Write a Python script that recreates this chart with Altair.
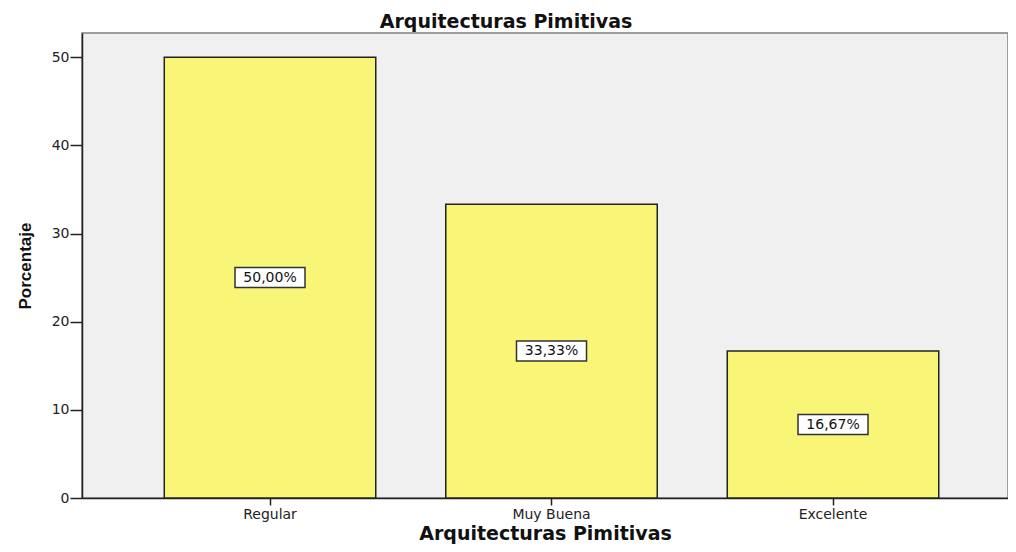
import altair as alt
import pandas as pd

categories = ["Regular", "Muy Buena", "Excelente"]
percentages = [50.0, 33.33, 16.67]
y_ticks = [0, 10, 20, 30, 40, 50]

df = pd.DataFrame({"categoria": categories, "porcentaje": percentages})

x_enc = alt.X(
    "categoria:N",
    sort=categories,
    title="Arquitecturas Pimitivas",
    scale=alt.Scale(paddingInner=0.2487, paddingOuter=0.2691, align=0.543),
    axis=alt.Axis(
        labelAngle=0, tickSize=7, tickWidth=1.5, tickColor="#222222",
        labelPadding=2, labelFont="DejaVu Sans", labelFontSize=14, labelColor="#222222",
        titleFont="DejaVu Sans", titleFontWeight="bold", titleFontSize=19, titleColor="#111111",
        titleY=41, titleBaseline="alphabetic",
        domainColor="#222222", domainWidth=1.5,
    ),
)

y_axis = alt.Axis(
    values=y_ticks, tickSize=12, tickWidth=1.5, tickColor="#222222", grid=False,
    labelPadding=1, labelFont="DejaVu Sans", labelFontSize=14, labelColor="#222222",
    domainColor="#222222", domainWidth=1.5,
    titleFont="Liberation Sans", titleFontWeight="bold", titleFontSize=17,
    titleColor="#111111", titleX=-52, titleBaseline="alphabetic", titleAngle=270,
)
y_scale = alt.Scale(domain=[0, 52.75], nice=False)

base = alt.Chart(df).encode(x=x_enc)

bars = base.mark_bar(color="#F9F576", stroke="#222222", strokeWidth=1.5).encode(
    y=alt.Y("porcentaje:Q", title="Porcentaje", scale=y_scale, axis=y_axis)
)

labeled = base.transform_calculate(
    mid="datum.porcentaje / 2",
    etiqueta="replace(format(datum.porcentaje, '.2f'), '.', ',') + '%'",
)

boxes = labeled.mark_bar(
    width=70, fill="white", stroke="#333333", strokeWidth=1.5, yOffset=-10, y2Offset=10
).encode(
    y=alt.Y("mid:Q", title="Porcentaje", scale=y_scale),
    y2="mid:Q",
)

texts = labeled.mark_text(
    font="DejaVu Sans", fontSize=14, color="#111111", baseline="middle", align="center"
).encode(
    y=alt.Y("mid:Q", title="Porcentaje", scale=y_scale),
    text="etiqueta:N",
)

chart = (
    alt.layer(bars, boxes, texts)
    .properties(
        width=926,
        height=465,
        autosize=alt.AutoSizeParams(type="none"),
        padding={"left": 74, "top": 25, "right": 0, "bottom": 46},
        title=alt.Title(
            "Arquitecturas Pimitivas", font="DejaVu Sans", fontSize=19, fontWeight="bold",
            color="#111111", anchor="middle", dx=-39, offset=1,
        ),
    )
    .configure_view(fill="#F0F0F0", stroke="#808080", strokeWidth=1.5)
)

chart.save("out.html", embed_options={"renderer": "svg", "actions": False})
